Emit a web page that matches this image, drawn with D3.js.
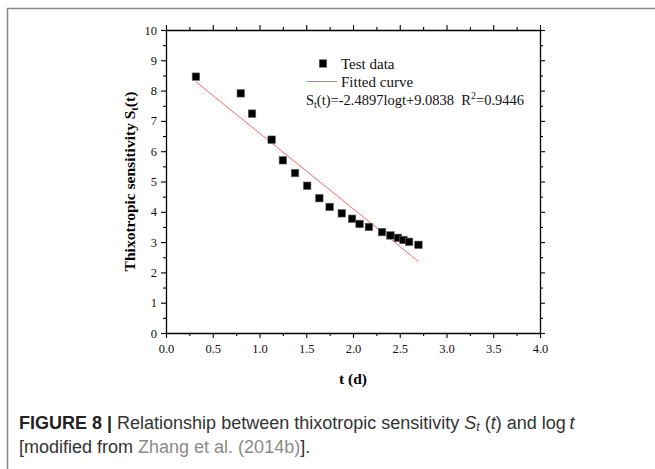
<!DOCTYPE html>
<html>
<head>
<meta charset="utf-8">
<script src="https://cdn.jsdelivr.net/npm/d3@7/dist/d3.min.js"></script>
<style>
  html, body { margin: 0; padding: 0; background: #fff; }
  svg { display: block; }
</style>
</head>
<body>
<div id="chart"></div>
<script>
// ── data ───────────────────────────────────────────────────
const logT = [0.32, 0.80, 0.92, 1.13, 1.25, 1.38, 1.51, 1.64, 1.75, 1.88, 1.99, 2.07, 2.17, 2.31, 2.40, 2.48, 2.54, 2.60, 2.70];
const st   = [8.46, 7.91, 7.24, 6.38, 5.70, 5.28, 4.86, 4.45, 4.16, 3.95, 3.77, 3.60, 3.50, 3.33, 3.22, 3.14, 3.07, 3.01, 2.91];
const fitX = [0.32, 2.70];
const fitY = [8.29, 2.36];
const xTicks = [0, 0.5, 1, 1.5, 2, 2.5, 3, 3.5, 4];
const yTicks = [0, 1, 2, 3, 4, 5, 6, 7, 8, 9, 10];

const W = 655, H = 469;
const PLOT = { left: 166, right: 540, top: 30, bottom: 333 };
const SERIF = "'Liberation Serif', 'Times New Roman', serif";
const SANS  = "'Liberation Sans', Arial, sans-serif";

const svg = d3.select("#chart").append("svg").attr("width", W).attr("height", H);

// outer frame (runs off the right and bottom edge)
svg.append("path")
  .attr("d", `M${W + 2},8.5 H7.5 V${H + 2}`)
  .attr("fill", "none").attr("stroke", "#8a8a8a").attr("stroke-width", 1.6);

const x = d3.scaleLinear().domain([0, 4]).range([PLOT.left, PLOT.right]);
const y = d3.scaleLinear().domain([0, 10]).range([PLOT.bottom, PLOT.top]);

const xMinor = d3.range(0.25, 4, 0.5);
const yMinor = d3.range(0.5, 10, 1);

function styleAxis(ax) {
  ax.attr("font-family", SERIF).attr("font-size", 12.5);
  ax.select(".domain").attr("stroke", "#000").attr("stroke-width", 1.3);
  ax.selectAll("line").attr("stroke", "#000").attr("stroke-width", 1.1);
  ax.selectAll("text").attr("fill", "#111");
}

// minor ticks
[[d3.axisBottom(x), `translate(0,${PLOT.bottom})`],
 [d3.axisTop(x),    `translate(0,${PLOT.top})`]].forEach(([a, t]) => {
  svg.append("g").attr("transform", t)
    .call(a.tickValues(xMinor).tickSize(3).tickFormat(""))
    .call(styleAxis).call(g => g.select(".domain").remove());
});
[[d3.axisLeft(y),  `translate(${PLOT.left},0)`],
 [d3.axisRight(y), `translate(${PLOT.right},0)`]].forEach(([a, t]) => {
  svg.append("g").attr("transform", t)
    .call(a.tickValues(yMinor).tickSize(3).tickFormat(""))
    .call(styleAxis).call(g => g.select(".domain").remove());
});

// major axes
svg.append("g").attr("transform", `translate(0,${PLOT.bottom})`)
  .call(d3.axisBottom(x).tickValues(xTicks).tickSize(5).tickSizeOuter(0).tickPadding(6).tickFormat(d3.format(".1f")))
  .call(styleAxis);
svg.append("g").attr("transform", `translate(0,${PLOT.top})`)
  .call(d3.axisTop(x).tickValues(xTicks).tickSize(5).tickSizeOuter(0).tickFormat(""))
  .call(styleAxis);
svg.append("g").attr("transform", `translate(${PLOT.left},0)`)
  .call(d3.axisLeft(y).tickValues(yTicks).tickSize(5).tickSizeOuter(0).tickPadding(4).tickFormat(d3.format("d")))
  .call(styleAxis);
svg.append("g").attr("transform", `translate(${PLOT.right},0)`)
  .call(d3.axisRight(y).tickValues(yTicks).tickSize(5).tickSizeOuter(0).tickFormat(""))
  .call(styleAxis);

// axis titles
svg.append("text")
  .attr("x", (PLOT.left + PLOT.right) / 2).attr("y", 384)
  .attr("text-anchor", "middle").attr("font-family", SERIF)
  .attr("font-weight", "bold").attr("font-size", 15.5).text("t (d)");

const yt = svg.append("text")
  .attr("transform", `translate(135,${(PLOT.top + PLOT.bottom) / 2}) rotate(-90)`)
  .attr("text-anchor", "middle").attr("font-family", SERIF)
  .attr("font-weight", "bold").attr("font-size", 15.5);
yt.append("tspan").text("Thixotropic sensitivity S");
yt.append("tspan").attr("font-size", 10.5).attr("dy", 3).text("t");
yt.append("tspan").attr("dy", -3).text("(t)");

// fitted line
svg.append("path").datum(d3.zip(fitX, fitY))
  .attr("d", d3.line().x(d => x(d[0])).y(d => y(d[1])))
  .attr("fill", "none").attr("stroke", "#f06a6a").attr("stroke-width", 1);

// test data
const SQ = 7.5;
svg.selectAll(".pt").data(d3.zip(logT, st)).join("rect")
  .attr("class", "pt")
  .attr("x", d => x(d[0]) - SQ / 2).attr("y", d => y(d[1]) - SQ / 2)
  .attr("width", SQ).attr("height", SQ)
  .attr("fill", "#000").attr("stroke", "#666").attr("stroke-width", 0.6);

// legend
const lg = svg.append("g").attr("font-family", SERIF).attr("font-size", 15).attr("fill", "#111");
lg.append("rect").attr("x", 323 - SQ / 2).attr("y", 63.5 - SQ / 2).attr("width", SQ).attr("height", SQ)
  .attr("fill", "#000").attr("stroke", "#666").attr("stroke-width", 0.6);
lg.append("text").attr("x", 341).attr("y", 68.5).text("Test data");
lg.append("line").attr("x1", 307).attr("x2", 337).attr("y1", 81.5).attr("y2", 81.5)
  .attr("stroke", "#f06a6a").attr("stroke-width", 1);
lg.append("text").attr("x", 341).attr("y", 86.5).text("Fitted curve");
const eq = lg.append("text").attr("x", 306).attr("y", 105).attr("font-size", 14.5);
eq.append("tspan").text("S");
eq.append("tspan").attr("font-size", 10).attr("dy", 3).text("t");
eq.append("tspan").attr("dy", -3).text("(t)=-2.4897logt+9.0838\u00a0\u00a0R");
eq.append("tspan").attr("font-size", 10).attr("dy", -6).text("2");
eq.append("tspan").attr("dy", 6).text("=0.9446");

// caption
const cap = svg.append("g").attr("font-family", SANS).attr("font-size", 18).attr("fill", "#333");
const c1 = cap.append("text").attr("x", 19).attr("y", 429);
c1.append("tspan").attr("font-weight", "bold").attr("fill", "#222").text("FIGURE 8 |");
c1.append("tspan").text(" Relationship between thixotropic sensitivity ");
c1.append("tspan").attr("font-style", "italic").text("S");
c1.append("tspan").attr("font-style", "italic").attr("font-size", 12.5).attr("dy", 2).text("t");
c1.append("tspan").attr("dy", -2).text(" (");
c1.append("tspan").attr("font-style", "italic").text("t");
c1.append("tspan").text(") and log\u2009");
c1.append("tspan").attr("font-style", "italic").text("t");
const c2 = cap.append("text").attr("x", 19).attr("y", 453);
c2.append("tspan").text("[modified from ");
c2.append("tspan").attr("fill", "#8a8a8a").text("Zhang et al. (2014b)");
c2.append("tspan").text("].");
</script>
</body>
</html>
